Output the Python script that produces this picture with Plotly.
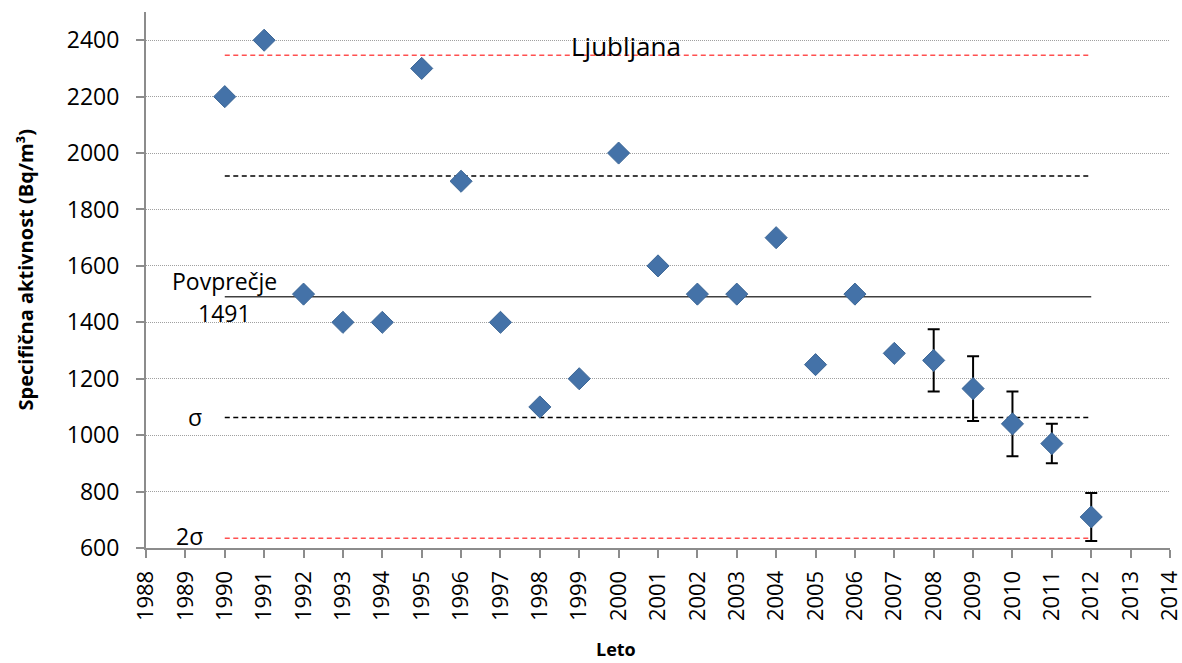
import plotly.graph_objects as go

years = [1990, 1991, 1992, 1993, 1994, 1995, 1996, 1997, 1998, 1999, 2000,
         2001, 2002, 2003, 2004, 2005, 2006, 2007, 2008, 2009, 2010, 2011, 2012]
values = [2200, 2400, 1500, 1400, 1400, 2300, 1900, 1400, 1100, 1200, 2000,
          1600, 1500, 1500, 1700, 1250, 1500, 1290, 1265, 1165, 1040, 970, 710]
errors = [None] * 18 + [110, 115, 115, 70, 85]

mean_val = 1491
sigma = 428
line_years = [1990, 2012]

fig = go.Figure()

FONT = "Open Sans, Carlito, Calibri, sans-serif"

# reference lines
fig.add_trace(go.Scatter(x=line_years, y=[mean_val, mean_val], mode="lines",
                         line=dict(color="#404040", width=1.5), hoverinfo="skip"))
for k, col in [(1, "#000000"), (2, "#FF5050")]:
    for s in (1, -1):
        yv = mean_val + s * k * sigma
        fig.add_trace(go.Scatter(x=line_years, y=[yv, yv], mode="lines",
                                 line=dict(color=col, width=1.5, dash="5px,3.5px"),
                                 hoverinfo="skip"))

fig.add_trace(go.Scatter(
    x=years, y=values, mode="markers",
    marker=dict(symbol="diamond", size=17, color="#4472A8",
                line=dict(color="#3D6796", width=1)),
    error_y=dict(type="data", array=[e if e is not None else 0 for e in errors],
                 visible=True, color="black", thickness=2, width=6),
))

fig.update_layout(
    width=1182, height=663,
    margin=dict(l=146, r=12, t=12, b=115),
    paper_bgcolor="white", plot_bgcolor="white",
    showlegend=False,
    font=dict(family=FONT, color="black", size=23),
    xaxis=dict(range=[1988, 2014], tickmode="linear", dtick=1, tick0=1988,
               tickangle=-90, showgrid=False, showline=True, linecolor="#8C8C8C",
               linewidth=2, ticks="outside", ticklen=8, tickcolor="#8C8C8C",
               tickwidth=2, zeroline=False, ticklabeloverflow="allow",
               ticklabelstandoff=4, automargin=False,
               tickfont=dict(size=22, family=FONT)),
    yaxis=dict(range=[600, 2500], tickmode="array",
               tickvals=[600, 800, 1000, 1200, 1400, 1600, 1800, 2000, 2200, 2400],
               showgrid=True, gridcolor="#A0A0A0", griddash="1px,1px", gridwidth=1,
               showline=True, linecolor="#8C8C8C", linewidth=2,
               ticks="outside", ticklen=8, tickcolor="#8C8C8C", tickwidth=2,
               ticklabelstandoff=12, automargin=False,
               zeroline=False, tickfont=dict(size=23, family=FONT)),
    annotations=[
        dict(x=1990, y=1547, text="Povprečje", showarrow=False, font=dict(size=23)),
        dict(x=1990, y=1434, text="1491", showarrow=False, font=dict(size=23)),
        dict(x=1989.25, y=1063, text="σ", showarrow=False, font=dict(size=23)),
        dict(x=1989.1, y=642, text="2σ", showarrow=False, font=dict(size=23)),
        dict(x=2000.2, y=2378, text="Ljubljana", showarrow=False, font=dict(size=26)),
        dict(xref="paper", yref="paper", x=-0.118, y=0.52, textangle=-90,
             xanchor="center", yanchor="middle",
             text="<b>Specifična aktivnost (Bq/m³)</b>", showarrow=False,
             font=dict(size=20)),
        dict(xref="paper", yref="paper", x=0.459, y=-0.188,
             xanchor="center", yanchor="middle",
             text="<b>Leto</b>", showarrow=False, font=dict(size=18)),
    ],
)

fig.write_html(
    "out.html",
    config={"displayModeBar": False},
    post_script="document.body.style.margin='0';document.body.style.overflow='hidden';",
)
